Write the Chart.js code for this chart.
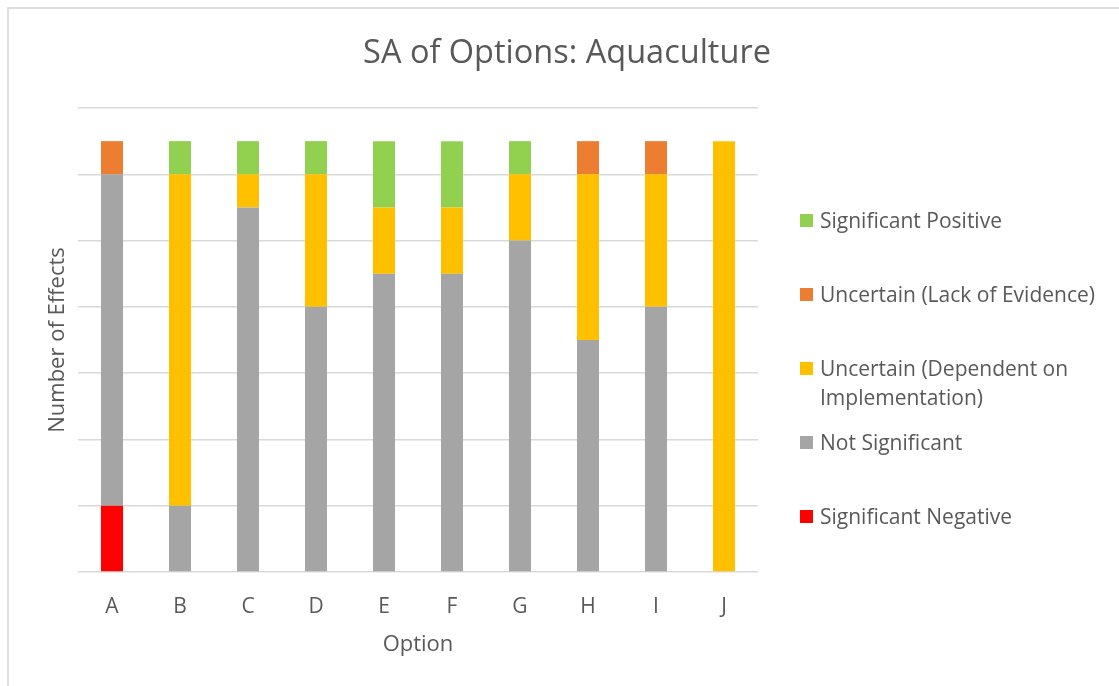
<!DOCTYPE html>
<html>
<head>
<meta charset="utf-8">
<title>SA of Options: Aquaculture</title>
<script src="https://cdn.jsdelivr.net/npm/chart.js@4.4.1/dist/chart.umd.min.js"></script>
<style>
  html, body { margin: 0; padding: 0; background: #fff; overflow: hidden; }
  #wrap { position: relative; width: 1119px; height: 686px; }
  #frame { position: absolute; left: 7px; top: 7px; width: 1200px; height: 800px; border: 2px solid #dedede; }
  #chart { position: absolute; left: 0; top: 0; }
  #legend { position: absolute; left: 800px; top: 0; font-family: "Open Sans", sans-serif; font-size: 21px; color: #595959; }
  .item { position: absolute; left: 0; width: 300px; line-height: 29px; }
  .box { position: absolute; left: 0; top: 8px; width: 13px; height: 13px; }
  .txt { margin-left: 20px; width: 285px; }
</style>
</head>
<body>
<div id="wrap">
  <div id="frame"></div>
  <canvas id="chart" width="1119" height="686"></canvas>
  <div id="legend"></div>
</div>
<script>
// Datos (numero de efectos por opcion)
const opciones = ["A", "B", "C", "D", "E", "F", "G", "H", "I", "J"];
const sigNegativo = [2, 0, 0, 0, 0, 0, 0, 0, 0, 0];
const noSignificativo = [10, 2, 11, 8, 9, 9, 10, 7, 8, 0];
const inciertoImpl = [0, 10, 1, 4, 2, 2, 2, 5, 4, 13];
const inciertoEvid = [1, 0, 0, 0, 0, 0, 0, 1, 1, 0];
const sigPositivo = [0, 1, 1, 1, 2, 2, 1, 0, 0, 0];
const yTicks = [0, 2, 4, 6, 8, 10, 12, 14];

const gris = "#595959";
const fuente = "'Open Sans', sans-serif";

const series = [
  { label: "Significant Negative", data: sigNegativo, color: "#FF0000" },
  { label: "Not Significant", data: noSignificativo, color: "#A5A5A5" },
  { label: "Uncertain (Dependent on Implementation)", data: inciertoImpl, color: "#FFC000" },
  { label: "Uncertain (Lack of Evidence)", data: inciertoEvid, color: "#ED7D31" },
  { label: "Significant Positive", data: sigPositivo, color: "#92D050" },
];

new Chart(document.getElementById("chart"), {
  type: "bar",
  data: {
    labels: opciones,
    datasets: series.map((s) => ({
      label: s.label,
      data: s.data,
      backgroundColor: s.color,
      borderWidth: 0,
      barPercentage: 0.324,
      categoryPercentage: 1,
    })),
  },
  options: {
    responsive: false,
    animation: false,
    layout: { padding: { left: 15, right: 0, top: 0, bottom: 0 } },
    plugins: {
      legend: { display: false },
      tooltip: { enabled: false },
      title: {
        display: true,
        text: "SA of Options: Aquaculture",
        color: gris,
        font: { family: fuente, size: 32.5, weight: "normal" },
        padding: { top: 34, bottom: 35 },
      },
    },
    scales: {
      x: {
        stacked: true,
        grid: { display: false },
        border: { display: false },
        ticks: { color: gris, font: { family: fuente, size: 21 }, padding: 14 },
        title: {
          display: true,
          text: "Option",
          color: gris,
          font: { family: fuente, size: 22 },
          padding: { top: 0, bottom: 28 },
        },
        afterFit: (s) => { s.height = 114; },
      },
      y: {
        stacked: true,
        min: 0,
        max: 14,
        afterBuildTicks: (s) => { s.ticks = yTicks.map((v) => ({ value: v })); },
        grid: { color: "#D9D9D9", lineWidth: 1.5, drawTicks: false },
        border: { display: false },
        ticks: { display: false },
        title: {
          display: true,
          text: "Number of Effects",
          color: gris,
          font: { family: fuente, size: 22 },
          padding: { top: 30, bottom: 0 },
        },
        afterFit: (s) => { s.width = 63; },
      },
      derecha: {
        type: "linear",
        position: "right",
        grid: { display: false },
        border: { display: false },
        ticks: { display: false },
        afterFit: (s) => { s.width = 361; },
      },
    },
  },
});

// Leyenda a la derecha (orden inverso, como en Excel)
const leyenda = document.getElementById("legend");
const topes = [206, 280, 354, 428, 502];
series.slice().reverse().forEach((s, i) => {
  const item = document.createElement("div");
  item.className = "item";
  item.style.top = topes[i] + "px";
  item.innerHTML = `<span class="box" style="background:${s.color}"></span><div class="txt">${s.label}</div>`;
  leyenda.appendChild(item);
});
</script>
</body>
</html>
